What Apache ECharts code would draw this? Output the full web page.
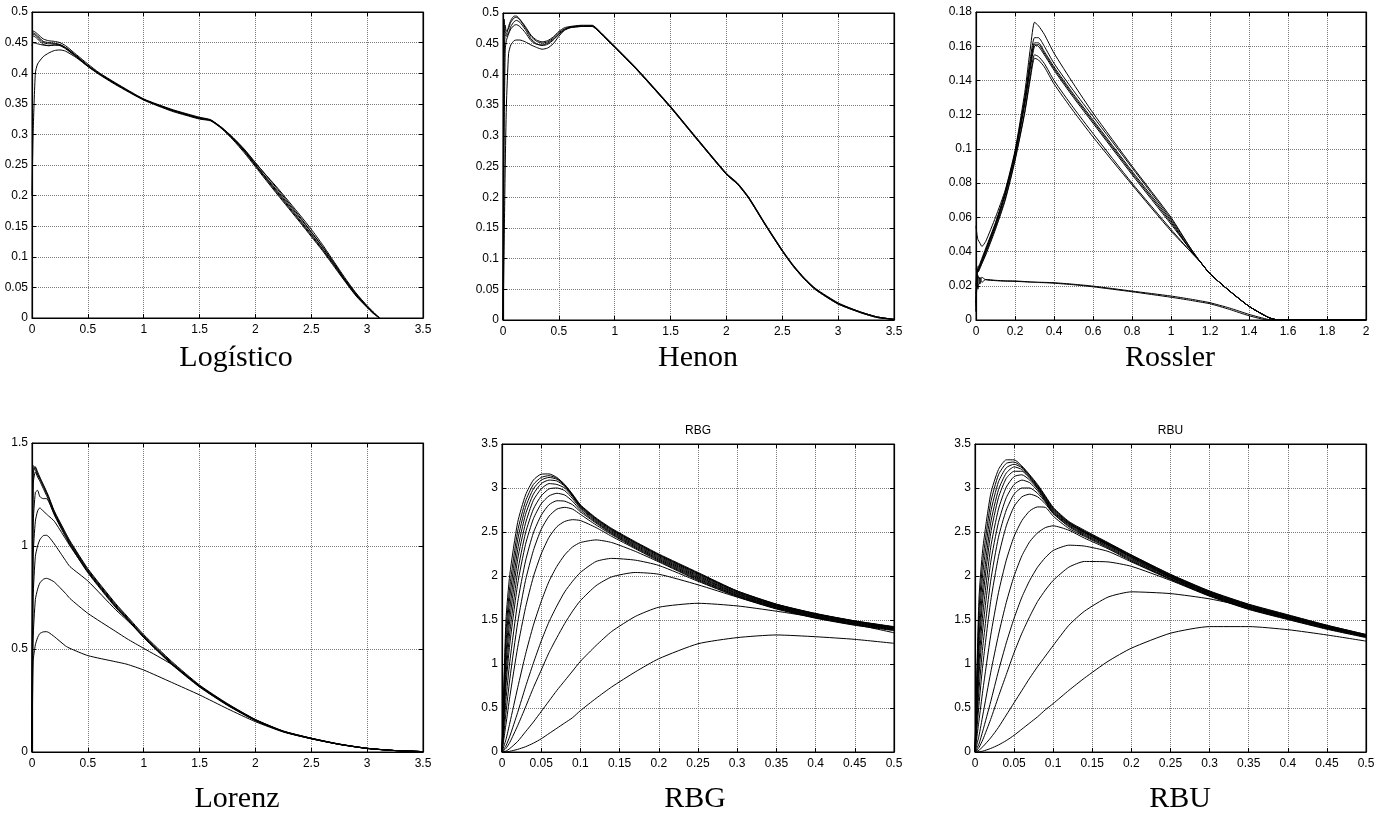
<!DOCTYPE html>
<html>
<head>
<meta charset="utf-8">
<script src="https://cdn.jsdelivr.net/npm/echarts@6/dist/echarts.min.js"></script>
<style>
html,body{margin:0;padding:0;background:#fff;}
#chart{width:1387px;height:819px;}
</style>
</head>
<body>
<div id="chart"></div>
<script>
// ---------- Logístico ----------
const X_LOG = [0, 0.01, 0.03, 0.05, 0.1, 0.15, 0.2, 0.25, 0.3, 0.4, 0.5, 0.6, 0.75, 1.0, 1.25, 1.4, 1.5, 1.6, 1.7, 1.8, 1.9, 2.0, 2.2, 2.4, 2.5, 2.6, 2.7, 2.8, 2.9, 3.0, 3.05, 3.11];
const LOG_1 = [0.467,0.466,0.464,0.461,0.452,0.450,0.449,0.447,0.442,0.428,0.413,0.400,0.383,0.357,0.340,0.332,0.327,0.323,0.310,0.293,0.273,0.250,0.205,0.160,0.137,0.113,0.088,0.062,0.038,0.018,0.009,0];
const LOG_2 = [0.470,0.469,0.467,0.464,0.456,0.453,0.452,0.450,0.445,0.430,0.415,0.401,0.384,0.358,0.341,0.333,0.328,0.324,0.311,0.295,0.276,0.254,0.210,0.165,0.141,0.117,0.091,0.064,0.040,0.019,0.010,0];
const LOG_3 = [0.462,0.461,0.459,0.456,0.447,0.445,0.446,0.445,0.440,0.426,0.411,0.398,0.381,0.356,0.338,0.330,0.325,0.322,0.309,0.291,0.270,0.247,0.201,0.156,0.133,0.110,0.085,0.060,0.036,0.017,0.008,0];
const LOG_4 = [0.445,0.450,0.449,0.448,0.446,0.445,0.446,0.446,0.442,0.428,0.412,0.399,0.382,0.357,0.339,0.331,0.326,0.323,0.310,0.292,0.272,0.249,0.203,0.158,0.135,0.112,0.087,0.061,0.037,0.018,0.009,0];
const LOG_5 = [0.200,0.300,0.400,0.415,0.427,0.433,0.437,0.438,0.436,0.425,0.411,0.399,0.382,0.357,0.340,0.331,0.326,0.323,0.310,0.293,0.274,0.251,0.207,0.163,0.140,0.116,0.090,0.063,0.039,0.018,0.009,0];
const LOG_6 = [0.465,0.464,0.462,0.459,0.450,0.448,0.448,0.446,0.441,0.427,0.412,0.399,0.383,0.357,0.340,0.332,0.327,0.323,0.311,0.294,0.275,0.253,0.212,0.168,0.145,0.120,0.093,0.066,0.041,0.020,0.011,0];

// ---------- Henon ----------
const X_HEN = [0, 0.005, 0.01, 0.02, 0.03, 0.05, 0.07, 0.1, 0.12, 0.15, 0.2, 0.25, 0.3, 0.35, 0.4, 0.45, 0.5, 0.55, 0.6, 0.7, 0.8, 0.85, 0.9, 1.0, 1.2, 1.5, 1.7, 2.0, 2.1, 2.2, 2.35, 2.5, 2.6, 2.7, 2.8, 3.0, 3.2, 3.35, 3.5];
const HEN_1 = [0.0,0.30,0.46,0.48,0.47,0.475,0.485,0.492,0.493,0.489,0.476,0.462,0.454,0.451,0.453,0.459,0.468,0.474,0.477,0.479,0.479,0.472,0.463,0.445,0.408,0.347,0.303,0.238,0.222,0.199,0.155,0.113,0.088,0.067,0.050,0.027,0.013,0.005,0.001];
const HEN_2 = [0.0,0.40,0.49,0.47,0.465,0.478,0.488,0.495,0.495,0.490,0.478,0.464,0.456,0.453,0.455,0.461,0.470,0.476,0.478,0.480,0.480,0.473,0.464,0.446,0.409,0.348,0.304,0.239,0.223,0.200,0.156,0.114,0.089,0.068,0.051,0.028,0.013,0.005,0.001];
const HEN_3 = [0.0,0.20,0.42,0.465,0.462,0.468,0.478,0.486,0.488,0.485,0.473,0.458,0.450,0.447,0.449,0.456,0.465,0.472,0.476,0.478,0.478,0.471,0.462,0.444,0.407,0.346,0.302,0.237,0.221,0.198,0.154,0.112,0.087,0.066,0.049,0.026,0.012,0.004,0.001];
const HEN_4 = [0.0,0.10,0.30,0.44,0.455,0.466,0.474,0.480,0.481,0.478,0.468,0.455,0.449,0.448,0.451,0.457,0.466,0.473,0.477,0.479,0.479,0.472,0.463,0.445,0.408,0.347,0.303,0.238,0.222,0.199,0.155,0.113,0.088,0.067,0.050,0.027,0.013,0.005,0.001];
const HEN_5 = [0.0,0.05,0.12,0.25,0.347,0.434,0.448,0.455,0.456,0.456,0.453,0.448,0.444,0.441,0.443,0.450,0.462,0.472,0.476,0.478,0.478,0.471,0.462,0.444,0.407,0.346,0.302,0.237,0.221,0.198,0.154,0.112,0.087,0.066,0.049,0.026,0.012,0.004,0.001];

// ---------- Rossler ----------
const X_ROS = [0, 0.005, 0.01, 0.02, 0.03, 0.05, 0.1, 0.15, 0.2, 0.25, 0.28, 0.3, 0.32, 0.35, 0.4, 0.5, 0.6, 0.8, 1.0, 1.1, 1.15, 1.2, 1.3, 1.4, 1.5, 1.55, 1.6, 2.0];
const ROS_1 = [0.005,0.030,0.028,0.031,0.034,0.040,0.055,0.073,0.096,0.126,0.148,0.160,0.161,0.156,0.147,0.131,0.116,0.086,0.057,0.041,0.034,0.027,0.017,0.008,0.0015,0,0,0];
const ROS_2 = [0.010,0.025,0.030,0.032,0.035,0.041,0.056,0.074,0.097,0.128,0.151,0.162,0.162,0.157,0.148,0.132,0.117,0.087,0.058,0.041,0.034,0.027,0.017,0.008,0.0015,0,0,0];
const ROS_3 = [0.020,0.031,0.031,0.033,0.036,0.042,0.057,0.075,0.098,0.130,0.154,0.165,0.165,0.160,0.150,0.134,0.119,0.089,0.059,0.042,0.034,0.027,0.017,0.008,0.0015,0,0,0];
const ROS_4 = [0.055,0.050,0.047,0.045,0.043,0.046,0.060,0.076,0.099,0.133,0.160,0.174,0.172,0.167,0.156,0.138,0.121,0.090,0.060,0.042,0.034,0.027,0.017,0.008,0.0015,0,0,0];
const ROS_5 = [0.015,0.030,0.029,0.031,0.033,0.039,0.054,0.071,0.094,0.122,0.144,0.155,0.154,0.150,0.140,0.124,0.109,0.080,0.053,0.040,0.034,0.027,0.017,0.008,0.0015,0,0,0];
const ROS_6 = [0.008,0.028,0.028,0.030,0.033,0.038,0.053,0.070,0.093,0.121,0.142,0.153,0.152,0.148,0.138,0.122,0.107,0.079,0.052,0.040,0.034,0.027,0.017,0.008,0.0015,0,0,0];
const ROS_7 = [0.005,0.027,0.018,0.025,0.022,0.0237,0.0232,0.0229,0.0228,0.0225,0.0223,0.0222,0.0221,0.0220,0.0218,0.0209,0.0198,0.0169,0.0140,0.0122,0.0112,0.0101,0.0070,0.0033,0.0003,0,0,0];
const ROS_8 = [0.010,0.020,0.026,0.021,0.025,0.0235,0.0230,0.0227,0.0226,0.0223,0.0221,0.0220,0.0219,0.0218,0.0215,0.0206,0.0194,0.0165,0.0133,0.0115,0.0105,0.0095,0.0062,0.0025,0,0,0,0];
const ROS_9 = [0.030,0.029,0.029,0.032,0.035,0.041,0.056,0.074,0.097,0.127,0.150,0.161,0.160,0.155,0.146,0.130,0.115,0.085,0.056,0.041,0.034,0.027,0.017,0.008,0.0015,0,0,0];

// ---------- Lorenz ----------
const X_LOR = [0, 0.005, 0.01, 0.03, 0.05, 0.07, 0.1, 0.13, 0.15, 0.2, 0.3, 0.34, 0.5, 0.75, 0.85, 1.0, 1.25, 1.5, 1.75, 2.0, 2.25, 2.5, 2.75, 3.0, 3.25, 3.5];
const LOR_1 = [0,0.9,1.38,1.37,1.345,1.325,1.29,1.255,1.23,1.16,1.055,1.015,0.88,0.71,0.65,0.56,0.43,0.32,0.23,0.155,0.10,0.066,0.038,0.018,0.007,0.002];
const LOR_2 = [0,0.8,1.35,1.385,1.36,1.335,1.30,1.265,1.24,1.17,1.065,1.025,0.89,0.72,0.66,0.57,0.44,0.325,0.235,0.158,0.102,0.067,0.039,0.018,0.007,0.002];
const LOR_3 = [0,0.7,1.30,1.36,1.335,1.315,1.28,1.245,1.22,1.15,1.045,1.005,0.87,0.70,0.645,0.555,0.425,0.315,0.226,0.152,0.098,0.064,0.037,0.017,0.007,0.002];
const LOR_4 = [0,1.0,1.39,1.38,1.35,1.33,1.295,1.26,1.235,1.165,1.06,1.02,0.885,0.715,0.655,0.565,0.435,0.322,0.233,0.157,0.101,0.067,0.038,0.018,0.007,0.002];
const LOR_5 = [0,0.6,1.10,1.26,1.27,1.24,1.23,1.23,1.215,1.155,1.05,1.01,0.875,0.705,0.648,0.558,0.428,0.318,0.228,0.154,0.099,0.065,0.037,0.017,0.007,0.002];
const LOR_6 = [0,0.5,0.95,1.12,1.17,1.185,1.17,1.155,1.145,1.12,1.035,1.0,0.875,0.705,0.648,0.558,0.428,0.318,0.228,0.154,0.099,0.065,0.037,0.017,0.007,0.002];
const LOR_7 = [0,0.4,0.75,0.95,1.00,1.03,1.05,1.052,1.045,1.01,0.93,0.90,0.83,0.69,0.64,0.56,0.43,0.32,0.23,0.155,0.10,0.066,0.038,0.018,0.007,0.002];
const LOR_8 = [0,0.3,0.55,0.74,0.79,0.82,0.838,0.843,0.84,0.825,0.77,0.745,0.673,0.585,0.55,0.503,0.425,0.32,0.232,0.156,0.10,0.066,0.038,0.018,0.007,0.002];
const LOR_9 = [0,0.25,0.44,0.52,0.555,0.575,0.583,0.584,0.58,0.56,0.515,0.503,0.468,0.438,0.426,0.398,0.338,0.277,0.21,0.147,0.097,0.064,0.037,0.017,0.007,0.002];

// ---------- RBG / RBU (shared x samples) ----------
const X_RB = [0, 0.005, 0.01, 0.02, 0.03, 0.04, 0.05, 0.06, 0.07, 0.08, 0.09, 0.1, 0.12, 0.14, 0.17, 0.2, 0.25, 0.3, 0.35, 0.4, 0.45, 0.5];
const RBG_1  = [0,1.49,2.02,2.61,2.92,3.09,3.157,3.16,3.12,3.04,2.93,2.81,2.66,2.54,2.39,2.25,2.04,1.83,1.68,1.575,1.49,1.425];
const RBG_2  = [0,1.35,1.88,2.51,2.85,3.04,3.12,3.14,3.11,3.03,2.92,2.80,2.65,2.53,2.38,2.24,2.03,1.83,1.68,1.57,1.49,1.42];
const RBG_3  = [0,1.22,1.76,2.41,2.78,2.99,3.09,3.12,3.10,3.03,2.92,2.80,2.65,2.53,2.38,2.24,2.03,1.82,1.675,1.57,1.485,1.42];
const RBG_4  = [0,1.09,1.63,2.30,2.70,2.93,3.05,3.09,3.08,3.02,2.91,2.79,2.64,2.52,2.37,2.23,2.02,1.82,1.67,1.565,1.48,1.415];
const RBG_5  = [0,0.98,1.50,2.19,2.60,2.86,2.99,3.05,3.04,3.00,2.90,2.78,2.63,2.51,2.36,2.22,2.01,1.81,1.665,1.56,1.48,1.41];
const RBG_6  = [0,0.86,1.36,2.05,2.49,2.76,2.91,2.99,3.00,2.97,2.88,2.77,2.62,2.50,2.35,2.21,2.00,1.80,1.66,1.555,1.475,1.41];
const RBG_7  = [0,0.75,1.23,1.91,2.36,2.65,2.82,2.91,2.94,2.92,2.85,2.75,2.61,2.49,2.34,2.20,1.99,1.80,1.655,1.55,1.47,1.405];
const RBG_8  = [0,0.59,1.03,1.70,2.17,2.49,2.69,2.81,2.855,2.85,2.81,2.73,2.60,2.48,2.33,2.19,1.98,1.79,1.65,1.545,1.465,1.40];
const RBG_9  = [0,0.44,0.83,1.47,1.95,2.29,2.53,2.68,2.76,2.78,2.76,2.70,2.58,2.47,2.32,2.18,1.97,1.78,1.645,1.54,1.46,1.40];
const RBG_10 = [0,0.31,0.63,1.19,1.64,1.99,2.25,2.44,2.56,2.62,2.64,2.63,2.55,2.45,2.31,2.17,1.96,1.78,1.64,1.535,1.455,1.395];
const RBG_11 = [0,0.14,0.33,0.73,1.11,1.44,1.71,1.94,2.11,2.24,2.33,2.38,2.41,2.38,2.28,2.16,1.95,1.77,1.635,1.53,1.45,1.39];
const RBG_12 = [0,0.07,0.18,0.45,0.74,1.01,1.26,1.48,1.66,1.82,1.94,2.04,2.165,2.20,2.18,2.12,1.94,1.765,1.63,1.525,1.445,1.385];
const RBG_13 = [0,0.04,0.11,0.30,0.51,0.73,0.93,1.13,1.30,1.46,1.60,1.72,1.89,1.99,2.04,2.02,1.90,1.76,1.625,1.52,1.44,1.38];
const RBG_14 = [0,0.01,0.04,0.12,0.23,0.34,0.46,0.58,0.70,0.81,0.92,1.03,1.21,1.37,1.54,1.645,1.69,1.66,1.60,1.53,1.45,1.355];
const RBG_15 = [0,0.002,0.008,0.03,0.06,0.10,0.15,0.21,0.27,0.33,0.39,0.47,0.61,0.74,0.91,1.06,1.23,1.30,1.33,1.31,1.28,1.235];

const RBU_1  = [0,1.73,2.31,2.93,3.21,3.32,3.32,3.25,3.15,3.04,2.91,2.78,2.62,2.52,2.38,2.24,2.02,1.83,1.68,1.56,1.44,1.335];
const RBU_2  = [0,1.58,2.17,2.83,3.15,3.28,3.295,3.24,3.14,3.03,2.90,2.77,2.61,2.51,2.375,2.235,2.015,1.825,1.675,1.555,1.44,1.335];
const RBU_3  = [0,1.42,2.03,2.72,3.07,3.23,3.27,3.23,3.13,3.02,2.89,2.76,2.61,2.505,2.37,2.23,2.01,1.82,1.67,1.55,1.435,1.33];
const RBU_4  = [0,1.27,1.87,2.60,2.98,3.17,3.24,3.21,3.12,3.01,2.88,2.75,2.60,2.50,2.365,2.225,2.005,1.815,1.665,1.545,1.43,1.33];
const RBU_5  = [0,1.14,1.74,2.48,2.89,3.11,3.19,3.19,3.11,3.00,2.87,2.74,2.595,2.495,2.36,2.22,2.00,1.81,1.66,1.54,1.43,1.325];
const RBU_6  = [0,0.99,1.57,2.32,2.76,3.01,3.13,3.15,3.09,2.99,2.86,2.73,2.59,2.49,2.355,2.215,1.995,1.805,1.655,1.535,1.425,1.325];
const RBU_7  = [0,0.86,1.40,2.15,2.61,2.89,3.04,3.09,3.06,2.97,2.85,2.72,2.58,2.48,2.35,2.21,1.99,1.80,1.65,1.53,1.42,1.32];
const RBU_8  = [0,0.69,1.20,1.94,2.44,2.75,2.93,3.00,3.00,2.94,2.84,2.71,2.57,2.47,2.34,2.20,1.985,1.795,1.645,1.53,1.42,1.32];
const RBU_9  = [0,0.53,0.99,1.71,2.22,2.57,2.79,2.90,2.93,2.90,2.82,2.71,2.56,2.46,2.33,2.19,1.98,1.79,1.64,1.525,1.415,1.315];
const RBU_10 = [0,0.35,0.70,1.32,1.81,2.18,2.45,2.63,2.74,2.785,2.78,2.68,2.54,2.45,2.32,2.18,1.97,1.785,1.635,1.52,1.41,1.31];
const RBU_11 = [0,0.18,0.42,0.90,1.33,1.70,2.00,2.23,2.39,2.49,2.55,2.57,2.52,2.43,2.31,2.17,1.965,1.78,1.63,1.515,1.405,1.31];
const RBU_12 = [0,0.09,0.24,0.57,0.92,1.24,1.52,1.76,1.95,2.10,2.21,2.29,2.35,2.34,2.28,2.16,1.96,1.775,1.625,1.51,1.40,1.305];
const RBU_13 = [0,0.05,0.14,0.37,0.63,0.88,1.13,1.35,1.54,1.71,1.84,1.95,2.10,2.165,2.16,2.11,1.95,1.77,1.62,1.505,1.395,1.30];
const RBU_14 = [0,0.02,0.06,0.16,0.28,0.42,0.56,0.70,0.84,0.97,1.09,1.21,1.44,1.60,1.76,1.82,1.80,1.74,1.645,1.535,1.425,1.32];
const RBU_15 = [0,0.0025,0.01,0.04,0.08,0.13,0.19,0.26,0.33,0.40,0.48,0.55,0.70,0.84,1.03,1.18,1.35,1.425,1.425,1.39,1.33,1.26];

// ---------- captions ----------
const CAPTIONS = ['Logístico', 'Henon', 'Rossler', 'Lorenz', 'RBG', 'RBU'];
const SUBTITLES = ['', '', '', '', 'RBG', 'RBU'];

// ---------- layout ----------
const panels = [
  {x: X_LOG, ys: [LOG_1, LOG_2, LOG_3, LOG_4, LOG_5, LOG_6], xMax: 3.5, xInt: 0.5, yMax: 0.5, yInt: 0.05,
   grid: {left: 32, top: 12, width: 391, height: 306}, cap: [236, 358]},
  {x: X_HEN, ys: [HEN_1, HEN_2, HEN_3, HEN_4, HEN_5], xMax: 3.5, xInt: 0.5, yMax: 0.5, yInt: 0.05,
   grid: {left: 503, top: 13, width: 391, height: 307}, cap: [698, 358]},
  {x: X_ROS, ys: [ROS_1, ROS_2, ROS_3, ROS_4, ROS_5, ROS_6, ROS_7, ROS_8, ROS_9], xMax: 2, xInt: 0.2, yMax: 0.18, yInt: 0.02,
   grid: {left: 976, top: 12, width: 390, height: 308}, cap: [1170, 358]},
  {x: X_LOR, ys: [LOR_1, LOR_2, LOR_3, LOR_4, LOR_5, LOR_6, LOR_7, LOR_8, LOR_9], xMax: 3.5, xInt: 0.5, yMax: 1.5, yInt: 0.5,
   grid: {left: 32, top: 443, width: 391, height: 309}, cap: [237, 799]},
  {x: X_RB, ys: [RBG_1, RBG_2, RBG_3, RBG_4, RBG_5, RBG_6, RBG_7, RBG_8, RBG_9, RBG_10, RBG_11, RBG_12, RBG_13, RBG_14, RBG_15], xMax: 0.5, xInt: 0.05, yMax: 3.5, yInt: 0.5,
   grid: {left: 502, top: 444, width: 392, height: 308}, cap: [695, 799]},
  {x: X_RB, ys: [RBU_1, RBU_2, RBU_3, RBU_4, RBU_5, RBU_6, RBU_7, RBU_8, RBU_9, RBU_10, RBU_11, RBU_12, RBU_13, RBU_14, RBU_15], xMax: 0.5, xInt: 0.05, yMax: 3.5, yInt: 0.5,
   grid: {left: 975, top: 444, width: 391, height: 308}, cap: [1180, 799]}
];

const LABEL_FONT = 'Liberation Sans, Arial, sans-serif';
const grids = [], xAxes = [], yAxes = [], series = [], graphics = [];
const axisLineStyle = {show: true, onZero: false, lineStyle: {color: '#000', width: 1.2}};
const tickStyle = {show: true, inside: true, length: 4, lineStyle: {color: '#000', width: 1}};
const gridLine = {show: true, lineStyle: {color: '#7a7a7a', type: [1, 1], width: 1}};

panels.forEach((p, i) => {
  grids.push(Object.assign({containLabel: false, show: true, borderColor: '#000', borderWidth: 1, backgroundColor: '#fff'}, p.grid));
  const xBase = {type: 'value', gridIndex: i, min: 0, max: p.xMax, interval: p.xInt};
  const yBase = {type: 'value', gridIndex: i, min: 0, max: p.yMax, interval: p.yInt};
  xAxes.push(Object.assign({}, xBase, {position: 'bottom', axisLine: axisLineStyle, axisTick: tickStyle,
    axisLabel: {color: '#000', fontSize: 12, fontFamily: LABEL_FONT, margin: 6, showMinLabel: true, showMaxLabel: true},
    splitLine: gridLine}));
  xAxes.push(Object.assign({}, xBase, {position: 'top', axisLine: axisLineStyle, axisTick: tickStyle,
    axisLabel: {show: false}, splitLine: {show: false}}));
  yAxes.push(Object.assign({}, yBase, {position: 'left', axisLine: axisLineStyle, axisTick: tickStyle,
    axisLabel: {color: '#000', fontSize: 12, fontFamily: LABEL_FONT, margin: 4, showMinLabel: true, showMaxLabel: true},
    splitLine: gridLine}));
  yAxes.push(Object.assign({}, yBase, {position: 'right', axisLine: axisLineStyle, axisTick: tickStyle,
    axisLabel: {show: false}, splitLine: {show: false}}));
  p.ys.forEach((ys) => {
    series.push({
      type: 'line', xAxisIndex: 2 * i, yAxisIndex: 2 * i,
      data: p.x.map((xv, j) => [xv, ys[j]]),
      showSymbol: false, symbol: 'none', silent: true, clip: true,
      smooth: 0.2,
      lineStyle: {color: '#000', width: 1}
    });
  });
  graphics.push({type: 'text', x: p.cap[0], y: p.cap[1], silent: true,
    style: {text: CAPTIONS[i], fill: '#000', font: '30px "Liberation Serif", "Times New Roman", serif', textAlign: 'center', textVerticalAlign: 'middle'}});
  if (SUBTITLES[i]) {
    graphics.push({type: 'text', x: p.grid.left + p.grid.width / 2, y: p.grid.top - 13, silent: true,
      style: {text: SUBTITLES[i], fill: '#000', font: '12px ' + LABEL_FONT, textAlign: 'center', textVerticalAlign: 'middle'}});
  }
});

const chart = echarts.init(document.getElementById('chart'), null, {renderer: 'canvas'});
chart.setOption({
  animation: false,
  backgroundColor: '#fff',
  grid: grids,
  xAxis: xAxes,
  yAxis: yAxes,
  series: series,
  graphic: graphics
});
</script>
</body>
</html>
